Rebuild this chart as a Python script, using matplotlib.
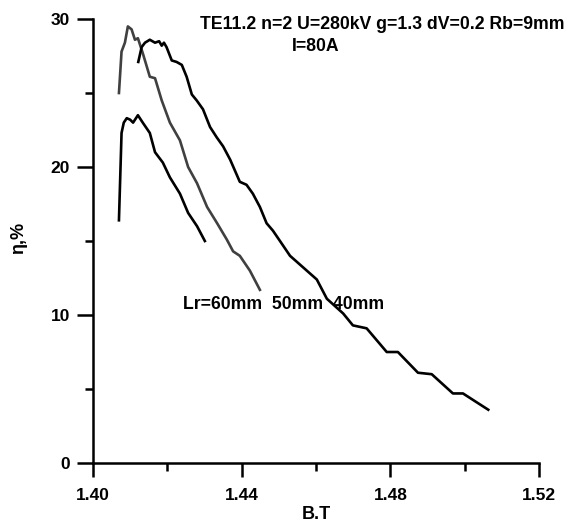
import matplotlib
matplotlib.use("Agg")
import matplotlib.pyplot as plt
from matplotlib.ticker import MultipleLocator

plt.rcParams['font.family'] = ['Liberation Sans', 'DejaVu Sans']
plt.rcParams['font.weight'] = 'bold'

# Lr = 60 mm
b_60 = [1.4070, 1.4077, 1.4083, 1.4091, 1.4100, 1.4108, 1.4121, 1.4134, 1.4153,
        1.4167, 1.4188, 1.4207, 1.4234, 1.4256, 1.4280, 1.4301]
eta_60 = [16.4, 22.3, 23.0, 23.3, 23.2, 23.0, 23.5, 23.0, 22.3,
          21.0, 20.3, 19.3, 18.2, 16.9, 16.0, 15.0]

# Lr = 50 mm
b_50 = [1.4070, 1.4077, 1.4086, 1.4094, 1.4104, 1.4113, 1.4121, 1.4134, 1.4153,
        1.4167, 1.4185, 1.4207, 1.4234, 1.4256, 1.4280, 1.4307, 1.4334, 1.4360,
        1.4377, 1.4395, 1.4422, 1.4449]
eta_50 = [25.0, 27.8, 28.4, 29.5, 29.3, 28.6, 28.7, 27.7, 26.1,
          26.0, 24.5, 23.0, 21.8, 20.0, 18.9, 17.3, 16.2, 15.1,
          14.3, 14.0, 13.0, 11.7]

# Lr = 40 mm
b_40 = [1.4122, 1.4131, 1.4140, 1.4153, 1.4167, 1.4178, 1.4185, 1.4191, 1.4198,
        1.4212, 1.4225, 1.4239, 1.4252, 1.4266, 1.4279, 1.4296, 1.4315, 1.4333,
        1.4350, 1.4369, 1.4395, 1.4413, 1.4430, 1.4449, 1.4467, 1.4484, 1.4503,
        1.4530, 1.4557, 1.4602, 1.4629, 1.4673, 1.4699, 1.4736, 1.4790, 1.4820,
        1.4874, 1.4911, 1.4968, 1.4995, 1.5032, 1.5063]
eta_40 = [27.1, 28.1, 28.4, 28.6, 28.4, 28.5, 28.2, 28.4, 28.1,
          27.2, 27.1, 26.9, 26.1, 24.9, 24.5, 23.9, 22.7, 22.0,
          21.4, 20.5, 19.0, 18.8, 18.2, 17.3, 16.2, 15.7, 15.0,
          14.0, 13.4, 12.4, 11.1, 10.1, 9.3, 9.1, 7.5, 7.5,
          6.1, 6.0, 4.7, 4.7, 4.1, 3.6]

x_ticks = [1.40, 1.44, 1.48, 1.52]
x_labels = ['1.40', '1.44', '1.48', '1.52']
y_ticks = [0, 10, 20, 30]

fig = plt.figure(figsize=(5.70, 5.24), dpi=100)
ax = fig.add_axes([0.163, 0.1164, 0.783, 0.8473])

ax.plot(b_60, eta_60, color='black', lw=1.9)
ax.plot(b_50, eta_50, color='#404040', lw=1.9)
ax.plot(b_40, eta_40, color='black', lw=1.9)

ax.set_xlim(1.40, 1.52)
ax.set_ylim(0, 30)
ax.set_xticks(x_ticks)
ax.set_xticklabels(x_labels)
ax.set_yticks(y_ticks)
ax.xaxis.set_minor_locator(MultipleLocator(0.02))
ax.yaxis.set_minor_locator(MultipleLocator(5))

for s in ['top', 'right']:
    ax.spines[s].set_visible(False)
for s in ['left', 'bottom']:
    ax.spines[s].set_linewidth(1.8)

ax.tick_params(axis='both', which='major', width=1.8, labelsize=12.5)
ax.tick_params(axis='y', which='major', length=11.5, pad=5)
ax.tick_params(axis='y', which='minor', length=6, width=1.8)
ax.tick_params(axis='x', which='major', length=10, pad=8)
ax.tick_params(axis='x', which='minor', length=6, width=1.8)
for lab in ax.get_xticklabels() + ax.get_yticklabels():
    lab.set_fontweight('bold')

ax.set_xlabel('B.T', fontsize=13, fontweight='bold', labelpad=2)
ax.set_ylabel('η,%', fontsize=13, fontweight='bold')
ax.yaxis.set_label_coords(-0.148, 0.507)

fig.text(0.351, 0.953, 'TE11.2 n=2 U=280kV g=1.3 dV=0.2 Rb=9mm',
         fontsize=12.7, fontweight='bold', va='center', ha='left')
fig.text(0.512, 0.912, 'I=80A', fontsize=12.7, fontweight='bold', va='center', ha='left')
fig.text(0.321, 0.418, 'Lr=60mm  50mm  40mm', fontsize=12.7, fontweight='bold',
         va='center', ha='left')

fig.savefig('out.png', dpi=100)
